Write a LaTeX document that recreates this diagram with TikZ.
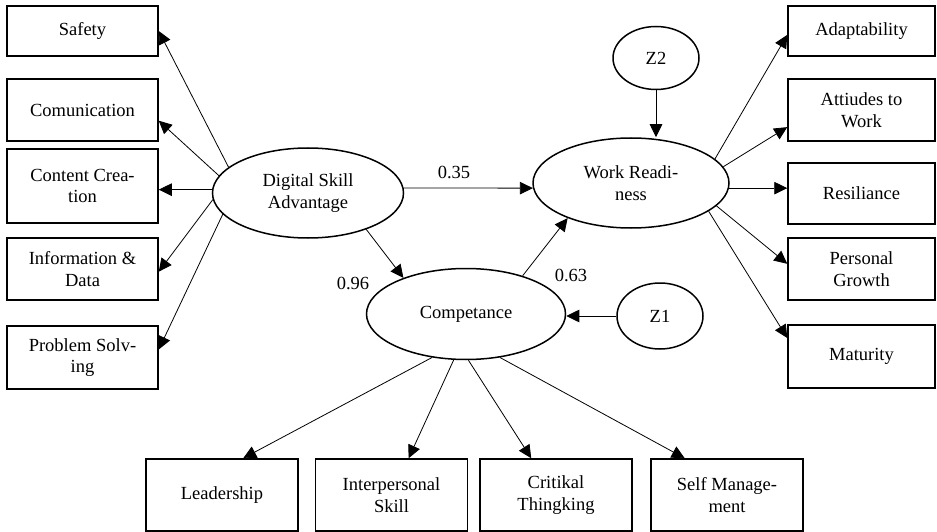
\documentclass[tikz,border=0pt]{standalone}
\usepackage{fontspec}
\setmainfont{Liberation Serif}
\usetikzlibrary{shapes.geometric,arrows.meta}

\begin{document}
\begin{tikzpicture}[x=1pt, y=-1pt,
        every node/.style={font=\fontsize{18.5}{21.5}\selectfont, align=center},
        indik/.style={draw, line width=1.5pt, rectangle, inner sep=0pt},
        laten/.style={draw, line width=1.5pt, ellipse, inner sep=0pt},
        arr/.style={-{Triangle[length=13pt,width=12.5pt]}, line width=0.8pt}]

        % Cadre
        \useasboundingbox (0,0) rectangle (937,532);

        % Variables latentes
        \node[laten, minimum width=191pt, minimum height=90pt] (dsa) at (308,193) {Digital Skill\\Advantage};
        \node[laten, minimum width=196pt, minimum height=90pt] (wr) at (631,183) {Work Readi-\\ness};
        \node[laten, minimum width=199pt, minimum height=91pt] (comp) at (466,314) {Competance};
        \node[laten, minimum width=86pt, minimum height=63pt] (z2) at (656,58) {Z2};
        \node[laten, minimum width=86pt, minimum height=66pt] (z1) at (660,316) {Z1};

        % Indicateurs gauche
        \foreach \nm/\yy/\hh/\txt in {saf/31/50/Safety, com/110/62/Comunication,
                cc/186/74/{Content Crea-\\tion}, info/269/62/{Information \&\\Data},
                prob/357.5/63/{Problem Solv-\\ing}} {
            \node[indik, minimum width=151pt, minimum height=\hh pt] (\nm) at (82.5,\yy) {\txt};
        }

        % Indicateurs droite
        \foreach \nm/\yy/\hh/\txt in {ada/31/50/Adaptability, att/110/62/{Attiudes to\\Work},
                res/193.5/61/Resiliance, per/269/62/{Personal\\Growth},
                mat/356.5/63/Maturity} {
            \node[indik, minimum width=147pt, minimum height=\hh pt] (\nm) at (861.5,\yy) {\txt};
        }

        % Indicateurs bas
        \foreach \nm/\xx/\txt in {lead/222/Leadership, inter/391.5/{Interpersonal\\Skill},
                crit/556/{Critikal\\Thingking}, self/727/{Self Manage-\\ment}} {
            \node[indik, minimum width=152pt, minimum height=72pt] (\nm) at (\xx,495) {\txt};
        }

        % Fleches
        \foreach \b/\a/\e in {saf/162/0, com/169/352, info/184/358, prob/194/6}
            \draw[arr] (dsa.\a) -- (\b.\e);
        \draw[arr] (dsa.178) -- (cc.east |- dsa.178);

        \foreach \b/\a/\e in {ada/16/183, att/10/193, per/345/176, mat/340/166}
            \draw[arr] (wr.\a) -- (\b.\e);
        \draw[arr] (wr.357) -- (res.west |- wr.357);

        \foreach \b/\a/\e in {lead/232/60, inter/255/65, crit/273/124, self/308/139}
            \draw[arr] (comp.\a) -- (\b.\e);

        \draw[arr] (dsa.3) -- (wr.183);
        \draw[arr] (dsa.328) -- (comp.150);
        \draw[arr] (comp.34) -- (wr.209);
        \draw[arr] (z1.west) -- (z1.west -| comp.east);
        \draw[arr] (z2.south) -- (z2.south |- wr.north);

        % Coefficients
        \node (c35) at (454,172) {0.35};
        \node (c96) at (353,283) {0.96};
        \node (c63) at (571,275) {0.63};

\end{tikzpicture}
\end{document}
